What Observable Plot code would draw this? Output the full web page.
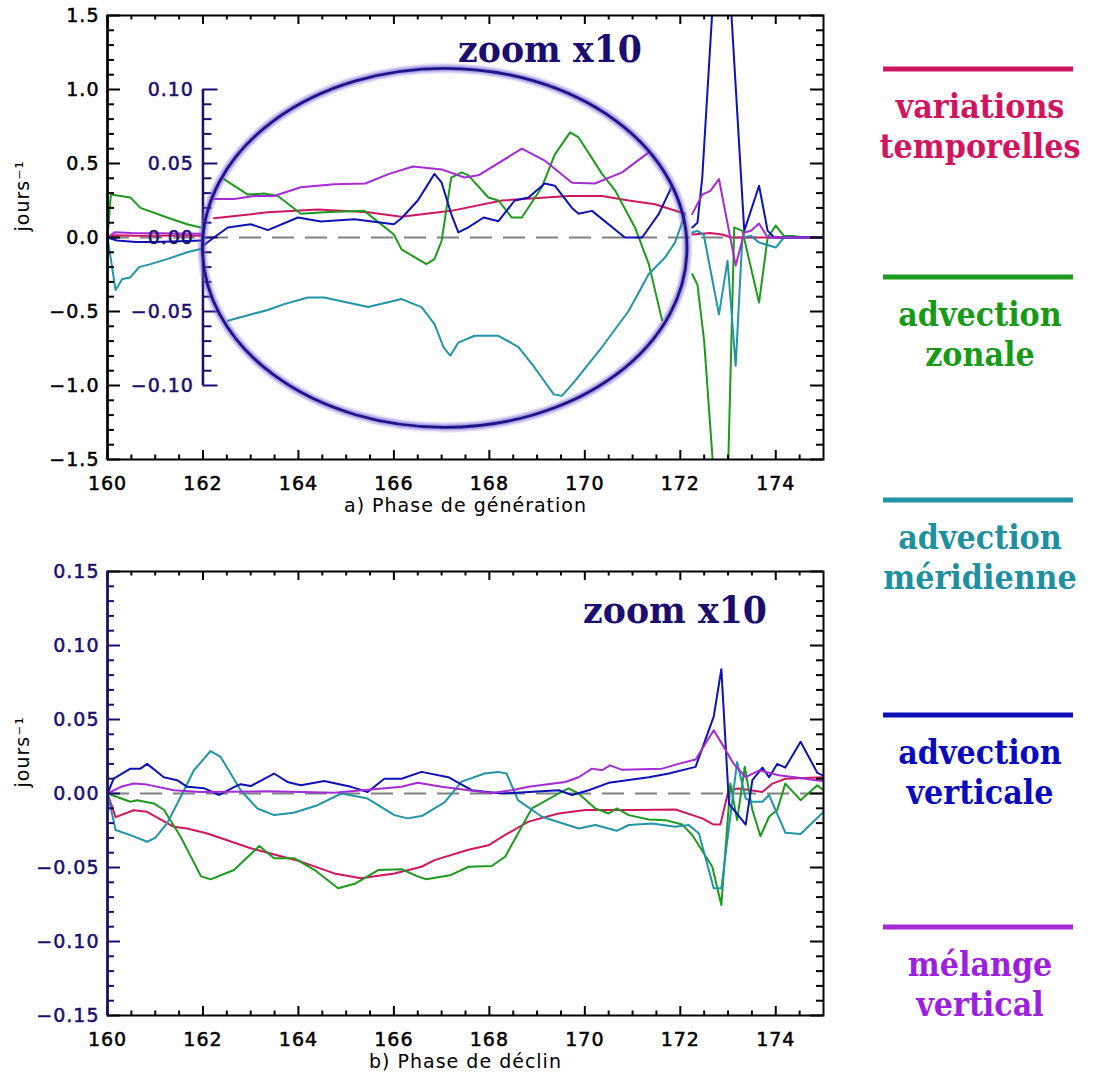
<!DOCTYPE html>
<html><head><meta charset="utf-8">
<script src="https://cdn.jsdelivr.net/npm/d3@7"></script>
<script src="https://cdn.jsdelivr.net/npm/@observablehq/plot@0.6"></script>
<style>
html,body{margin:0;padding:0;background:#fff;}
#page{position:relative;width:1093px;height:1078px;overflow:hidden;background:#fff;}
.layer{position:absolute;left:0;}
.layer svg text{letter-spacing:1px;font-size:19px !important;}
.layer svg g[aria-label="caption"] text{font-size:18px !important;letter-spacing:2px;}
.layer svg g[aria-label$="tick label"] text,
.layer svg g[aria-label="caption"] text,
.layer svg g[aria-label="ylabel"] text{stroke:#000;stroke-width:0.5px;}
#bot svg g[aria-label="y-axis tick label"] text,
#inset svg g[aria-label="y-axis tick label"] text{stroke:#1b0e70;}
</style></head><body><div id="page">
<div id="top" class="layer" style="top:0"></div>
<div id="inset" class="layer" style="top:0"></div>
<div id="bot" class="layer" style="top:556px"></div>
<svg id="annot" width="1093" height="1078" style="position:absolute;left:0;top:0;pointer-events:none"></svg>
</div>
<script>
// ---------- series ----------
const seriesKeys = ["temp", "zon", "mer", "vert", "mel"];
const seriesLabels = [["variations", "temporelles"], ["advection", "zonale"], ["advection", "méridienne"], ["advection", "verticale"], ["mélange", "vertical"]];
const seriesColors = ["#d01660", "#1d9a1d", "#2195a6", "#0c12b8", "#a52bd6"];
const legendTextColors = ["#d2145f", "#179a17", "#1e90a0", "#0a0ac0", "#9d1fe0"];
const NAVY = "#1b0e70";

// ---------- panel a) : real scale, 160-162 (jours^-1) ----------
const topL_temp = [[160,0],[160.15,0.015],[160.6,0.012],[161,0.012],[161.5,0.013],[162,0.012]];
const topL_zon  = [[160,0],[160.07,0.29],[160.48,0.27],[160.69,0.2],[161.25,0.135],[161.67,0.09],[161.95,0.068]];
const topL_mer  = [[160,0],[160.17,-0.355],[160.31,-0.28],[160.48,-0.27],[160.66,-0.2],[160.9,-0.18],[161.25,-0.146],[161.67,-0.1],[161.95,-0.078]];
const topL_vert = [[160,0],[160.2,-0.02],[160.6,-0.03],[161,-0.03],[161.5,-0.025],[162,-0.02]];
const topL_mel  = [[160,0],[160.15,0.035],[160.5,0.03],[161,0.028],[161.5,0.027],[162,0.025]];

// ---------- panel a) : zoom x10 inset (jours^-1, inset axis) ----------
const inset_temp = [[162.23,0.013],[163.36,0.017],[164.41,0.019],[165.46,0.017],[166.16,0.014],[167.2,0.018],[168.26,0.025],[169.66,0.028],[170.36,0.028],[170.92,0.025],[171.47,0.0225],[172.1,0.016]];
const inset_zon  = [[162.44,0.0395],[162.94,0.029],[163.28,0.0297],[163.57,0.028],[164.05,0.016],[164.54,0.017],[165.38,0.018],[166.0,0.002],[166.16,-0.008],[166.68,-0.018],[166.85,-0.0146],[167.0,-0.0023],[167.2,0.0405],[167.42,0.044],[167.56,0.042],[167.98,0.027],[168.19,0.025],[168.47,0.0135],[168.68,0.0135],[169.1,0.034],[169.37,0.056],[169.69,0.071],[169.87,0.0676],[170.36,0.043],[170.64,0.0315],[171.05,0.0068],[171.34,-0.018],[171.62,-0.056]];
const inset_mer  = [[162.52,-0.0563],[163.0,-0.052],[163.36,-0.049],[163.7,-0.045],[164.2,-0.0405],[164.54,-0.0405],[165.46,-0.047],[166.16,-0.0416],[166.58,-0.047],[166.85,-0.0585],[167.04,-0.074],[167.18,-0.0799],[167.35,-0.071],[167.69,-0.0664],[168.19,-0.0664],[168.61,-0.074],[168.95,-0.088],[169.35,-0.106],[169.52,-0.107],[169.79,-0.097],[170.36,-0.074],[170.92,-0.0495],[171.34,-0.0247],[171.68,-0.0135],[171.89,-0.0034],[172.1,0.0158]];
const inset_vert = [[162.0,-0.0056],[162.23,0],[162.52,0.0068],[163.0,0.009],[163.36,0.005],[163.99,0.0135],[164.47,0.0108],[165.17,0.0124],[166.0,0.009],[166.16,0.013],[166.5,0.025],[166.85,0.043],[167.0,0.037],[167.2,0.016],[167.35,0.0034],[167.56,0.0068],[167.88,0.0135],[168.19,0.011],[168.53,0.025],[168.82,0.027],[169.16,0.0365],[169.37,0.035],[169.73,0.020],[169.87,0.016],[170.15,0.018],[170.84,0],[171.2,0],[171.55,0.016],[171.83,0.035]];
const inset_mel  = [[162.23,0.026],[162.65,0.026],[163.07,0.028],[163.49,0.028],[164.05,0.034],[164.75,0.036],[165.4,0.0365],[165.9,0.043],[166.4,0.048],[167.0,0.046],[167.48,0.0405],[167.77,0.042],[168.68,0.060],[169.16,0.052],[169.73,0.037],[170.21,0.0365],[170.78,0.044],[171.34,0.0575]];

// ---------- panel a) : real scale, after 172.2 ----------
const topR_temp = [[172.25,0.02],[172.63,0.03],[172.87,0.02],[173.07,0],[175,0]];
const topR_zon  = [[172.25,-0.247],[172.36,-0.32],[172.5,-0.70],[172.92,-2.6],[173.13,0.068],[173.3,0.045],[173.65,-0.44],[173.83,0],[174.0,0.08],[174.17,0.011],[174.37,0.01],[174.57,0],[175,0]];
const topR_mer  = [[172.25,0.034],[172.36,0.045],[172.49,0.02],[172.81,-0.52],[172.99,-0.157],[173.16,-0.867],[173.3,0],[173.48,0.011],[173.65,-0.034],[174.0,-0.068],[174.17,0],[175,0]];
const topR_vert = [[172.25,0.068],[172.36,0.10],[172.46,0.405],[172.87,2.6],[173.34,0.045],[173.65,0.35],[173.83,0.045],[173.97,0],[175,0]];
const topR_mel  = [[172.25,0.158],[172.46,0.29],[172.63,0.315],[172.81,0.395],[173.16,-0.19],[173.34,0.034],[173.48,0.045],[173.65,0.095],[173.83,0],[175,0]];

// zoomed region outlined by the ellipse (main-axis units)
const zoomBox = {t0: 162.0, t1: 172.15, v0: -1.286, v1: 1.14};

// ---------- panel b) ----------
const bot_temp = [[160,0],[160.17,-0.016],[160.55,-0.0113],[160.83,-0.0124],[161.39,-0.0225],[161.67,-0.0236],[162.09,-0.027],[163.0,-0.037],[164.05,-0.046],[164.75,-0.054],[165.31,-0.0573],[166.01,-0.054],[166.58,-0.0495],[166.85,-0.045],[167.56,-0.038],[167.98,-0.035],[168.33,-0.028],[168.82,-0.019],[169.45,-0.0135],[170.01,-0.0112],[171.06,-0.0112],[171.9,-0.0108],[172.46,-0.0168],[172.7,-0.021],[172.84,-0.021],[173.01,0.0022],[173.22,0.0034],[173.72,0.001],[173.93,0.0067],[174.2,0.010],[175,0.011]];
const bot_zon  = [[160,0],[160.48,-0.0056],[160.62,-0.0045],[160.97,-0.0067],[161.18,-0.011],[161.53,-0.029],[161.96,-0.056],[162.16,-0.058],[162.65,-0.0517],[163.18,-0.0355],[163.49,-0.0438],[163.92,-0.0438],[164.34,-0.0517],[164.83,-0.064],[165.18,-0.061],[165.67,-0.0517],[166.16,-0.0512],[166.5,-0.056],[166.68,-0.058],[167.2,-0.055],[167.56,-0.0495],[168.05,-0.049],[168.33,-0.0427],[168.89,-0.0101],[169.45,0],[169.66,0.0034],[169.87,0],[170.22,-0.0101],[170.5,-0.0135],[170.67,-0.0101],[170.92,-0.0146],[171.34,-0.0175],[171.69,-0.018],[172.04,-0.021],[172.25,-0.028],[172.67,-0.0495],[172.86,-0.0753],[173.05,0.0067],[173.19,-0.018],[173.35,0.018],[173.51,-0.0112],[173.68,-0.0288],[173.86,-0.0157],[174.03,-0.0112],[174.2,0.0067],[174.52,-0.0045],[174.87,0.0056],[175,0.0022]];
const bot_mer  = [[160,0],[160.17,-0.0247],[160.55,-0.029],[160.83,-0.0326],[161.0,-0.030],[161.25,-0.020],[161.57,0],[161.81,0.0157],[162.16,0.0287],[162.37,0.0247],[162.79,0.0022],[163.14,-0.0101],[163.49,-0.0146],[163.9,-0.013],[164.4,-0.0079],[164.9,0],[165.45,-0.0034],[166.01,-0.0146],[166.29,-0.0168],[166.6,-0.015],[167.06,-0.006],[167.42,0.008],[167.9,0.0135],[168.18,0.0146],[168.36,0.0135],[168.6,-0.0045],[169.1,-0.0157],[169.87,-0.0236],[170.22,-0.0213],[170.67,-0.0252],[170.92,-0.0213],[171.41,-0.0202],[171.9,-0.0225],[172.18,-0.0213],[172.39,-0.027],[172.7,-0.064],[172.86,-0.064],[173.19,0.0213],[173.37,-0.0034],[173.51,-0.0056],[173.72,-0.0056],[173.86,-0.001],[174.2,-0.0265],[174.52,-0.0274],[175,-0.0124]];
const bot_vert = [[160,0],[160.13,0.010],[160.48,0.0168],[160.69,0.0168],[160.83,0.020],[161.18,0.011],[161.46,0.009],[161.67,0.0045],[162.03,0.0035],[162.34,-0.001],[162.66,0.0045],[162.79,0.0063],[163.0,0.005],[163.49,0.0135],[163.77,0.0078],[164.05,0.0056],[164.54,0.0085],[165.1,0.0045],[165.45,0.001],[165.8,0.010],[166.16,0.010],[166.58,0.0146],[167.14,0.011],[167.63,0.0022],[168.26,0],[169.45,0.0022],[169.73,-0.001],[170.08,0.0022],[170.5,0.0072],[171.34,0.011],[171.76,0.0135],[172.32,0.018],[172.7,0.052],[172.86,0.084],[173.02,-0.007],[173.37,-0.021],[173.51,0.009],[173.72,0.0175],[173.86,0.011],[174.03,0.020],[174.2,0.0175],[174.52,0.035],[174.87,0.014],[175,0.012]];
const bot_mel  = [[160,0],[160.28,0.0045],[160.55,0.0067],[160.83,0.006],[161.39,0.0022],[161.95,0.001],[163.35,0.0015],[164.75,0.0005],[166.16,0.0045],[166.5,0.0072],[167.0,0.0045],[167.56,0.0022],[168.05,0.0004],[168.47,0.0022],[168.82,0.0045],[169.59,0.0078],[169.87,0.011],[170.15,0.0168],[170.36,0.0157],[170.53,0.019],[170.78,0.016],[171.62,0.0168],[171.96,0.020],[172.32,0.023],[172.7,0.0427],[172.87,0.0337],[173.12,0.020],[173.37,0.011],[173.65,0.0157],[174.06,0.0123],[174.4,0.011],[174.84,0.009],[175,0.0085]];

// ---------- tick values ----------
const xMajor = d3.range(160, 175, 2);
const xMinor = d3.range(321, 350, 1).map(i => i / 2).filter(v => v % 2 !== 0);
const yTopMajor = d3.range(-3, 4).map(i => i / 2);
const yTopMinor = d3.range(-15, 16).map(i => i / 10).filter(v => Math.abs(v * 2 - Math.round(v * 2)) > 1e-9);
const yBotMajor = d3.range(-3, 4).map(i => i / 20);
const yBotMinor = d3.range(-15, 16).map(i => i / 100).filter(v => Math.abs(v * 20 - Math.round(v * 20)) > 1e-9);
const insetMajor = [-0.1, -0.05, 0, 0.05, 0.1];
const insetMinor = d3.range(-10, 11).map(i => i / 100).filter(v => Math.abs(v * 20 - Math.round(v * 20)) > 1e-9);

// ---------- build tables ----------
function toRows(groups, seg) {
  return seriesKeys.flatMap((k, i) => groups[i].map(([t, v]) => ({series: k, seg: seg + "-" + k, t, v})));
}
const rowsTop = toRows([topL_temp, topL_zon, topL_mer, topL_vert, topL_mel], "L")
  .concat(toRows([topR_temp, topR_zon, topR_mer, topR_vert, topR_mel], "R"));
const rowsInset = toRows([inset_temp, inset_zon, inset_mer, inset_vert, inset_mel], "I");
const rowsBot = toRows([bot_temp, bot_zon, bot_mer, bot_vert, bot_mel], "B");

// ---------- layout ----------
const W = 840, mL = 107, mR = 17, mT = 15, PH = 444;
const PW = W - mL - mR;
const FONT = "'DejaVu Sans', sans-serif";
const colorScale = {type: "ordinal", domain: seriesKeys, range: seriesColors};

function frameTicks(pw, yMaj, yMin, leftColor) {
  const s = {strokeWidth: 2};
  return [
    Plot.ruleX(xMajor, {insetTop: PH - 9, ...s}),
    Plot.ruleX(xMajor, {insetBottom: PH - 9, ...s}),
    Plot.ruleX(xMinor, {insetTop: PH - 4.5, ...s}),
    Plot.ruleX(xMinor, {insetBottom: PH - 4.5, ...s}),
    Plot.ruleY(yMaj, {insetRight: pw - 13, stroke: leftColor, ...s}),
    Plot.ruleY(yMin, {insetRight: pw - 7, stroke: leftColor, ...s}),
    Plot.ruleY(yMaj, {insetLeft: pw - 13, ...s}),
    Plot.ruleY(yMin, {insetLeft: pw - 7, ...s})
  ];
}

function panel({height, mB, yDomain, yMaj, yMin, yFmt, yColor, rows, caption}) {
  return Plot.plot({
    width: W, height, marginLeft: mL, marginRight: mR, marginTop: mT, marginBottom: mB,
    style: {fontFamily: FONT, fontSize: "19px", background: "transparent", overflow: "visible"},
    x: {domain: [160, 175], label: null},
    y: {domain: yDomain, label: null},
    color: colorScale,
    marks: [
      Plot.ruleY([0], {stroke: "#808080", strokeWidth: 2, strokeDasharray: "22,11"}),
      Plot.line(rows, {x: "t", y: "v", z: "seg", stroke: "series", strokeWidth: 2, clip: true}),
      ...frameTicks(PW, yMaj, yMin, yColor),
      Plot.frame({stroke: "black", strokeWidth: 2}),
      Plot.ruleX([160], {stroke: yColor, strokeWidth: 2.5}),
      Plot.axisX({ticks: xMajor, tickSize: 0, tickPadding: 17, fontSize: 19, label: null, tickFormat: d => String(d)}),
      Plot.axisY({ticks: yMaj, tickSize: 0, tickPadding: 8, fontSize: 19, label: null, tickFormat: d3.format(yFmt), color: yColor}),
      Plot.text([caption], {text: d => d, frameAnchor: "bottom", dy: 52, fontSize: 18, ariaLabel: "caption"}),
      Plot.text(["jours⁻¹"], {text: d => d, frameAnchor: "left", dx: -85, dy: -6, rotate: -90, fontSize: 19, ariaLabel: "ylabel"})
    ]
  });
}

const plotTop = panel({height: 534, mB: 75, yDomain: [-1.5, 1.5], yMaj: yTopMajor, yMin: yTopMinor, yFmt: ".1f", yColor: "black", rows: rowsTop, caption: "a) Phase de génération"});
document.getElementById("top").append(plotTop);

const plotBot = panel({height: 522, mB: 63, yDomain: [-0.15, 0.15], yMaj: yBotMajor, yMin: yBotMinor, yFmt: ".2f", yColor: NAVY, rows: rowsBot, caption: "b) Phase de déclin"});
document.getElementById("bot").append(plotBot);

// ---------- inset (x10) overlay, own y scale ----------
const insetLeft = mL + 2 * PW / 15;
const insetPW = W - mR - insetLeft;
const plotInset = Plot.plot({
  width: W, height: 534, marginLeft: insetLeft, marginRight: mR, marginTop: mT, marginBottom: 75,
  style: {fontFamily: FONT, fontSize: "19px", background: "transparent", overflow: "visible"},
  x: {domain: [162, 175], axis: null, label: null},
  y: {domain: [-0.15, 0.15], label: null},
  color: colorScale,
  marks: [
    Plot.line(rowsInset, {x: "t", y: "v", z: "seg", stroke: "series", strokeWidth: 2}),
    Plot.ruleX([162], {y1: -0.1, y2: 0.1, stroke: NAVY, strokeWidth: 2.5}),
    Plot.ruleY(insetMajor, {insetRight: insetPW - 15, stroke: NAVY, strokeWidth: 2}),
    Plot.ruleY(insetMinor, {insetRight: insetPW - 9, stroke: NAVY, strokeWidth: 2}),
    Plot.axisY({ticks: insetMajor, tickSize: 0, tickPadding: 9, fontSize: 19, label: null, tickFormat: d3.format(".2f"), color: NAVY})
  ]
});
document.getElementById("inset").append(plotInset);

// ---------- annotations: ellipse, zoom labels, legend ----------
const ann = d3.select("#annot");
const defs = ann.append("defs");
defs.append("filter").attr("id", "glow").attr("x", "-10%").attr("y", "-10%").attr("width", "120%").attr("height", "120%")
  .append("feGaussianBlur").attr("stdDeviation", 1.6);
const xs = plotTop.scale("x"), ys = plotTop.scale("y");
const ex0 = xs.apply(zoomBox.t0), ex1 = xs.apply(zoomBox.t1);
const ey0 = ys.apply(zoomBox.v1), ey1 = ys.apply(zoomBox.v0);
const ell = {cx: (ex0 + ex1) / 2, cy: (ey0 + ey1) / 2, rx: (ex1 - ex0) / 2, ry: (ey1 - ey0) / 2};
ann.append("ellipse").attr("cx", ell.cx).attr("cy", ell.cy).attr("rx", ell.rx).attr("ry", ell.ry)
  .attr("fill", "none").attr("stroke", "#6f62d0").attr("stroke-width", 7).attr("opacity", 0.7).attr("filter", "url(#glow)");
ann.append("ellipse").attr("cx", ell.cx).attr("cy", ell.cy).attr("rx", ell.rx).attr("ry", ell.ry)
  .attr("fill", "none").attr("stroke", "#21138a").attr("stroke-width", 2.8);

// horizontally fitted serif text (keeps the glyph height, matches the reference width)
const SERIF = "bold 34px 'DejaVu Serif', serif";
function fittedText(cx, y, str, color, targetWidth, font) {
  const g = ann.append("g").attr("transform", `translate(${cx},${y})`);
  const t = g.append("text").attr("x", 0).attr("y", 0).attr("text-anchor", "middle")
    .attr("fill", color).style("font", font).text(str);
  const w = t.node().getComputedTextLength();
  if (w > 0) t.attr("transform", `scale(${targetWidth / w},1)`);
  return t;
}
fittedText(550, 62, "zoom x10", NAVY, 184, "bold 38px 'DejaVu Serif', serif");
fittedText(675, 623, "zoom x10", NAVY, 184, "bold 38px 'DejaVu Serif', serif");

const legendLineY = [69, 277, 500, 715, 927];
// common horizontal factor so that "temporelles" spans ~201 px as in the reference
const probe = ann.append("text").style("font", SERIF).text("temporelles");
const kx = 201 / probe.node().getComputedTextLength();
probe.remove();
seriesKeys.forEach((k, i) => {
  const y = legendLineY[i];
  ann.append("line").attr("x1", 883).attr("x2", 1073).attr("y1", y).attr("y2", y)
    .attr("stroke", seriesColors[i]).attr("stroke-width", 5);
  seriesLabels[i].forEach((s, j) => {
    ann.append("g").attr("transform", `translate(980,${y + 49 + j * 40}) scale(${kx},1)`)
      .append("text").attr("text-anchor", "middle").attr("fill", legendTextColors[i])
      .style("font", SERIF).text(s);
  });
});
</script></body></html>
